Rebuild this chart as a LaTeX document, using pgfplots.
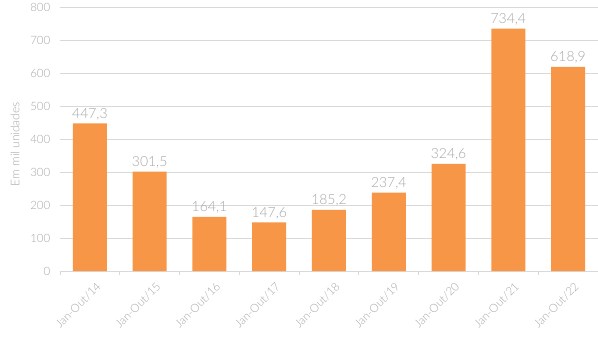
\documentclass[border=0pt]{standalone}
\usepackage{pgfplots}
\pgfplotsset{compat=1.18}
\usepackage{fontspec}
\setmainfont{Lato}[UprightFont=* Light]
\definecolor{barc}{HTML}{F79646}
\definecolor{txt}{HTML}{A6A6A6}
\definecolor{grd}{HTML}{D9D9D9}
\begin{document}
\begin{tikzpicture}
\path[use as bounding box] (-60bp,-73bp) rectangle (538bp,271bp);
\begin{axis}[
  at={(0,0)}, anchor=south west,
  scale only axis, width=538bp, height=264bp,
  xmin=-0.5, xmax=8.5, ymin=0, ymax=800,
  ytick={0,100,...,800},
  ymajorgrids, grid style={grd, line width=0.8bp},
  axis x line*=bottom, axis y line*=left,
  x axis line style={grd, line width=0.8bp},
  y axis line style={draw=none},
  ytick style={draw=none},
  xtick={0,...,8},
  xticklabels={Jan-Out/14,Jan-Out/15,Jan-Out/16,Jan-Out/17,Jan-Out/18,Jan-Out/19,Jan-Out/20,Jan-Out/21,Jan-Out/22},
  major x tick style={draw=none},
  minor xtick={-0.5,0.5,...,8.5},
  minor x tick style={grd, line width=0.8bp},
  tick align=outside, minor tick length=4bp,
  /pgf/number format/assume math mode=true,
  xticklabel style={rotate=45, anchor=north east, font=\fontsize{11.5}{13}\selectfont, text=txt, yshift=-5bp, xshift=3bp},
  yticklabel style={font=\fontsize{11.5}{13}\selectfont, text=txt, xshift=-2bp},
  ylabel={Em mil unidades},
  every axis y label/.style={at={(axis description cs:-0.0836,0.48)}, anchor=center, rotate=90, font=\fontsize{12}{14}\selectfont, text=txt},
  nodes near coords,
  every node near coord/.append style={font=\fontsize{14}{16}\selectfont, text=txt,
    /pgf/number format/.cd, use comma, fixed, fixed zerofill, precision=1, assume math mode=true},
]
\addplot[ybar, bar width=34bp, fill=barc, draw=none] coordinates {
(0,447.3) (1,301.5) (2,164.1) (3,147.6) (4,185.2) (5,237.4) (6,324.6) (7,734.4) (8,618.9)
};
\end{axis}
\end{tikzpicture}
\end{document}
